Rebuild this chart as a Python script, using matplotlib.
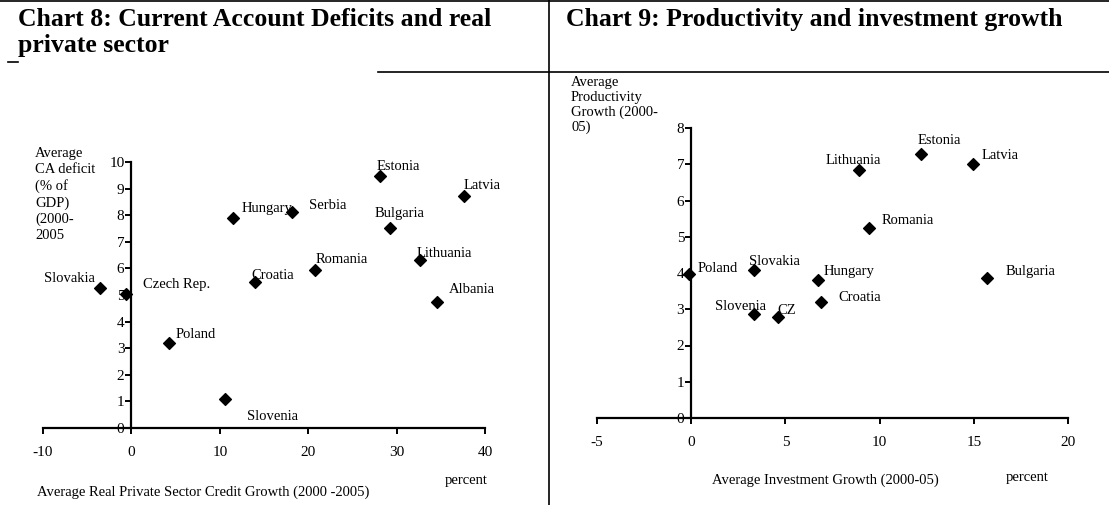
import matplotlib
matplotlib.use("Agg")
import matplotlib.pyplot as plt
from matplotlib.lines import Line2D

plt.rcParams["font.family"] = ["Liberation Serif", "DejaVu Serif"]
plt.rcParams["axes.unicode_minus"] = False

# Chart 8 data
ca_names = ["Slovakia", "Czech Rep.", "Poland", "Slovenia", "Hungary", "Serbia", "Croatia",
            "Romania", "Estonia", "Bulgaria", "Lithuania", "Latvia", "Albania"]
ca_credit = [-3.6, -0.6, 4.2, 10.6, 11.5, 18.2, 14.0, 20.8, 28.1, 29.2, 32.7, 37.6, 34.6]
ca_deficit = [5.28, 5.05, 3.18, 1.08, 7.9, 8.13, 5.49, 5.95, 9.48, 7.53, 6.33, 8.73, 4.75]
ca_offsets = [(-40, 4), (12, 4), (5, 4), (16, -15), (6, 4), (12, 2), (-3, 2),
              (0, 5), (-2, 4), (-11, 8), (-3, 2), (0, 5), (8, 6)]

# Chart 9 data
pr_names = ["Poland", "Slovakia", "Hungary", "Slovenia", "CZ", "Croatia", "Romania",
            "Lithuania", "Estonia", "Latvia", "Bulgaria"]
pr_invest = [-0.1, 3.35, 6.74, 3.33, 4.6, 6.88, 9.42, 8.9, 12.18, 14.95, 15.72]
pr_prod = [3.98, 4.07, 3.80, 2.86, 2.79, 3.19, 5.25, 6.85, 7.28, 7.0, 3.87]
pr_offsets = [(6, 1), (-4, 4), (4, 4), (-28, 3), (0, 2), (13, 1), (9, 3),
              (-24, 4), (-2, 7), (6, 4), (13, 2)]

W, H = 1109, 505
fig = plt.figure(figsize=(W / 100, H / 100), dpi=100)
fs = 10.5


def px_axes(x0, x1, ytop, ybot):
    return fig.add_axes([x0 / W, 1 - ybot / H, (x1 - x0) / W, (ybot - ytop) / H])


def style(ax):
    ax.spines["top"].set_visible(False)
    ax.spines["right"].set_visible(False)
    ax.spines["left"].set_position(("data", 0))
    for s in ("left", "bottom"):
        ax.spines[s].set_linewidth(1.6)
    ax.tick_params(axis="both", direction="out", length=4, width=1.4, labelsize=11)
    ax.tick_params(axis="x", pad=9)
    ax.tick_params(axis="y", pad=1)
    ax.set_facecolor("none")


# Left chart
ax = px_axes(43, 485, 162, 428)
ax.scatter(ca_credit, ca_deficit, marker="D", s=36, color="black", zorder=3)
for n, x, y, o in zip(ca_names, ca_credit, ca_deficit, ca_offsets):
    ax.annotate(n, (x, y), xytext=o, textcoords="offset points", fontsize=fs)
ax.set_xlim(-10, 40)
ax.set_ylim(0, 10)
ax.set_xticks(range(-10, 41, 10))
ax.set_yticks(range(0, 11))
style(ax)

# Right chart
ax2 = px_axes(597, 1068, 128, 418)
ax2.scatter(pr_invest, pr_prod, marker="D", s=36, color="black", zorder=3)
for n, x, y, o in zip(pr_names, pr_invest, pr_prod, pr_offsets):
    ax2.annotate(n, (x, y), xytext=o, textcoords="offset points", fontsize=fs)
ax2.set_xlim(-5, 20)
ax2.set_ylim(0, 8)
ax2.set_xticks(range(-5, 21, 5))
ax2.set_yticks(range(0, 9))
style(ax2)

# Text
fig.text(35 / W, 1 - 147 / H, "Average\nCA deficit\n(% of\nGDP)\n(2000-\n2005", fontsize=fs,
         va="top", linespacing=1.3)
fig.text(37 / W, 1 - 496 / H, "Average Real Private Sector Credit Growth (2000 -2005)", fontsize=fs)
fig.text(445 / W, 1 - 484 / H, "percent", fontsize=fs)
fig.text(571 / W, 1 - 76 / H, "Average\nProductivity\nGrowth (2000-\n05)", fontsize=fs,
         va="top", linespacing=1.15)
fig.text(712 / W, 1 - 484 / H, "Average Investment Growth (2000-05)", fontsize=fs)
fig.text(1006 / W, 1 - 481 / H, "percent", fontsize=fs)

fig.text(18 / W, 1 - 8 / H, "Chart 8: Current Account Deficits and real\nprivate sector",
         fontsize=18.5, fontweight="bold", va="top", linespacing=1.15)
fig.text(566 / W, 1 - 8 / H, "Chart 9: Productivity and investment growth",
         fontsize=18.5, fontweight="bold", va="top")

# Frame lines
def fline(x, y):
    fig.add_artist(Line2D([v / W for v in x], [1 - v / H for v in y], color="black", lw=1.2))

fline([0, W], [1, 1])
fline([549, 549], [0, H])
fline([378, W], [72, 72])
fline([8, 18], [62, 62])

fig.savefig("out.png", dpi=100)
